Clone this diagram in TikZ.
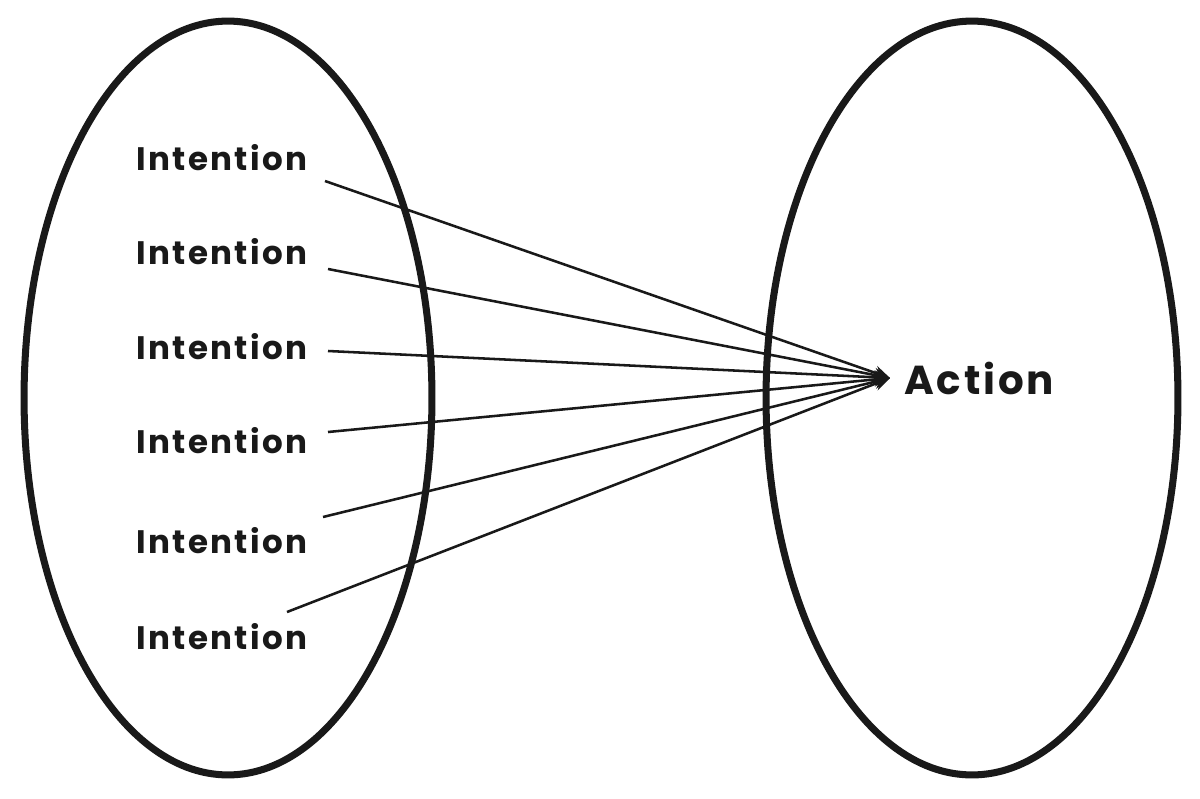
\documentclass[tikz,border=0pt]{standalone}
\usepackage{fontspec}
\setmainfont{Poppins}[LetterSpace=7]
\usetikzlibrary{positioning,arrows.meta}

\tikzset{
  menge/.style={line width=4pt,black!90},
  absicht/.style={font=\fontsize{18.5}{20}\selectfont\bfseries,text=black!90,inner sep=0pt},
  pfeil/.style={line width=1.45pt,black!90,-{Stealth[length=9pt,width=8pt]}}
}

\begin{document}
\begin{tikzpicture}[x=0.02cm,y=-0.02cm]
\useasboundingbox (0,0) rectangle (1200,798);

% linke und rechte menge
\draw [menge] (228,398) ellipse (4.08cm and 7.54cm);
\draw [menge] (972,398) ellipse (4.12cm and 7.54cm);

\node[absicht](i1) at (222,158){Intention};
\node[absicht](i2) at (222,252){Intention};
\node[absicht](i3) at (222,347){Intention};
\node[absicht](i4) at (222,441){Intention};
\node[absicht](i5) at (222,541){Intention};
\node[absicht](i6) at (222,637){Intention};

\node[absicht,font=\fontsize{23}{26}\selectfont\bfseries,anchor=west](a) at (904,378){Action};

% anfangspunkte der linien
\coordinate (s1) at (325,181);
\coordinate (s2) at (328,269);
\coordinate (s3) at (328,351);
\coordinate (s4) at (328,432);
\coordinate (s5) at (323,517);
\coordinate (s6) at (287,612);
% spitze
\coordinate (z) at (890,378);

\draw [pfeil] (s1) -- (z);
\draw [pfeil] (s2) -- (z);
\draw [pfeil] (s3) -- (z);
\draw [pfeil] (s4) -- (z);
\draw [pfeil] (s5) -- (z);
\draw [pfeil] (s6) -- (z);

\end{tikzpicture}
\end{document}
